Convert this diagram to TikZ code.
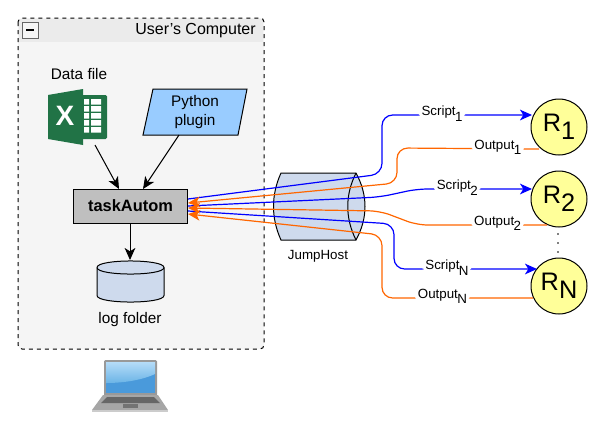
\documentclass[tikz,border=0pt]{standalone}
\usepackage{amsmath,amsfonts,amssymb,xcolor,fontspec}
\setmainfont{Liberation Sans}
\usetikzlibrary{arrows.meta,shapes.geometric}
\definecolor{xlgreen}{HTML}{217346}
\definecolor{linkblue}{HTML}{0000FF}
\definecolor{linkorange}{HTML}{FF6600}
\definecolor{routeryellow}{HTML}{FFFF99}
\definecolor{pluginblue}{HTML}{99CCFF}
\definecolor{cylfill}{HTML}{CEDAED}
\definecolor{screenlow}{HTML}{4A9ADB}
\definecolor{screentop}{HTML}{B5DCF8}
\definecolor{screenmid}{HTML}{6BB4E6}
\newcommand{\lbl}[2]{#1\kern-0.5pt\raisebox{-4pt}{#2}}
\tikzset{
  x=0.75pt, y=-0.75pt,
  txt/.style={font=\fontsize{11.5}{14}\selectfont, inner sep=0pt, align=center},
  blk/.style={draw=black, line width=0.75pt, -{Stealth[length=9pt,width=8pt,inset=2.5pt]}},
  sendline/.style={draw=linkblue, line width=0.9pt, rounded corners=8pt, -{Stealth[length=9pt,width=8pt,inset=2.5pt]}},
  recvline/.style={draw=linkorange, line width=0.9pt, rounded corners=8pt, -{Stealth[length=9pt,width=8pt,inset=2.5pt]}},
  linklbl/.style={txt, fill=white, inner xsep=2pt, inner ysep=1pt, font=\fontsize{10}{11}\selectfont},
  router/.style={circle, draw, line width=0.75pt, fill=routeryellow, minimum size=42pt, inner sep=0pt, font=\fontsize{19}{21}\selectfont},
  cylbody/.style={fill=cylfill, line width=0.75pt},
}
\begin{document}
\begin{tikzpicture}
\useasboundingbox (0,0) rectangle (603,436);
% computer frame
\fill[rounded corners=3pt, black!4] (18,18) rectangle (264,349);
\fill[black!8] (19,19) rectangle (263,42);
\draw[dashed, line width=0.75pt, rounded corners=3pt] (18,18) rectangle (264,349);
\node[draw=black!60, fill=black!4, minimum size=12pt, inner sep=0pt] (btn) at (30,30) {};
\draw[line width=1.4pt] (26,30) -- (34,30);
\node[txt, anchor=east, font=\fontsize{12}{14}\selectfont] (title) at (256,31) {User's Computer};
% excel icon
\fill[xlgreen, rounded corners=1pt] (80,95) rectangle (107,139);
\foreach \row in {0,1,2,3,4}
  \fill[white] (84,99+\row*7) rectangle (89,104.5+\row*7) (91,99+\row*7) rectangle (101,104.5+\row*7);
\fill[xlgreen] (48,95) -- (83,89) -- (83,145) -- (48,139) -- cycle;
\node[inner sep=0pt, text=white, font=\fontsize{21}{21}\bfseries\selectfont] (xl) at (65,116) {X};
\node[txt] (dfile) at (79,74) {Data file};
\coordinate (xlout) at (95,145);
% plugin
\draw[fill=pluginblue, line width=0.75pt] (153,89) -- (247,89) -- (238,135) -- (143,135) -- cycle;
\node[txt] (plugin) at (195,112) {Python\\plugin};
\coordinate (plugout) at (179,135);
% main box
\node[draw, fill=black!25, line width=0.75pt, minimum width=86pt, minimum height=25.5pt, inner sep=0pt,
  font=\fontsize{12.3}{14}\bfseries\selectfont] (task) at (130.5,206) {taskAutom};
\coordinate (t1) at (188,199);
\coordinate (t2) at (188,203);
\coordinate (t3) at (188,206);
\coordinate (t4) at (188,208);
\coordinate (t5) at (188,211);
\coordinate (t6) at (188,214);
\coordinate (taskN) at (119,189);
\coordinate (taskP) at (143,189);
\coordinate (taskS) at (130,223);
\draw[blk] (xlout) -- (taskN);
\draw[blk] (plugout) -- (taskP);
% log folder
\coordinate (logtop) at (130,260);
\draw[cylbody] (97,267.5) .. controls (97,258.8) and (164,258.8) .. (164,267.5)
  -- (164,295.5) .. controls (164,304.2) and (97,304.2) .. (97,295.5) -- cycle;
\draw[line width=0.75pt] (97,267.5) .. controls (97,276.2) and (164,276.2) .. (164,267.5);
\draw[blk] (taskS) -- (logtop);
\node[txt] (logname) at (130,320) {log folder};
% laptop
\fill[black!40, rounded corners=1pt] (104,360) rectangle (157,396);
\fill[screenlow] (106,362) rectangle (155,393);
\shade[top color=screentop, bottom color=screenmid] (106,362) -- (155,362) -- (155,374) .. controls (140,381) and (120,383) .. (106,383) -- cycle;
\fill[black!35] (103,395) -- (158,395) -- (168,410) -- (92,410) -- cycle;
\fill[black!20] (92,410) rectangle (168,412);
\fill[black!60] (107,397) -- (154,397) -- (160,403) -- (101,403) -- cycle;
\fill[black!55] (123,404) rectangle (138,408);
% jump host
\draw[cylbody] (281,173) -- (356,173)
  .. controls (368,195) and (368,218) .. (356,240) -- (281,240)
  .. controls (271,218) and (271,195) .. (281,173) -- cycle;
\draw[line width=0.75pt] (356,173) .. controls (345,195) and (345,218) .. (356,240);
\node[txt, font=\fontsize{10}{11}\selectfont] (jump) at (318,256) {JumpHost};
% routers
\node[router] (r1) at (559,127) {R\raisebox{-6pt}{1}};
\node[router] (r2) at (559,199) {R\raisebox{-6pt}{2}};
\node[router] (rn) at (559,286) {R\raisebox{-6pt}{N}};
\coordinate (r1w) at (532,115);
\coordinate (r2w) at (532,189);
\coordinate (rnw) at (537,269);
\coordinate (r1o) at (539,149);
\coordinate (r2o) at (547,225);
\coordinate (rno) at (533,298);
\foreach \dy in {234,243,252}
  \fill (558,\dy) circle (0.7pt);
% links
\draw[sendline] (t1) -- (382,174) -- (382,115) -- node[linklbl, pos=0.4, yshift=1pt] (s1) {\lbl{Script}{1}} (r1w);
\draw[sendline] (t3) -- (380,197) -- (417,189) -- node[linklbl, pos=0.35, yshift=1pt] (s2) {\lbl{Script}{2}} (r2w);
\draw[sendline] (t5) -- (394,224) -- (394,269) -- node[linklbl, pos=0.37, yshift=1pt] (sn) {\lbl{Script}{N}} (rnw);
\draw[recvline] (r1o) -- node[linklbl, pos=0.29, yshift=1pt] (o1) {\lbl{Output}{1}} (397,148) -- (397,183) -- (t2);
\draw[recvline] (r2o) -- node[linklbl, pos=0.38, yshift=1pt] (o2) {\lbl{Output}{2}} (417,225) -- (380,211) -- (t4);
\draw[recvline] (rno) -- node[linklbl, pos=0.6, yshift=1pt] (on) {\lbl{Output}{N}} (382,298) -- (382,235) -- (t6);
\end{tikzpicture}
\end{document}
